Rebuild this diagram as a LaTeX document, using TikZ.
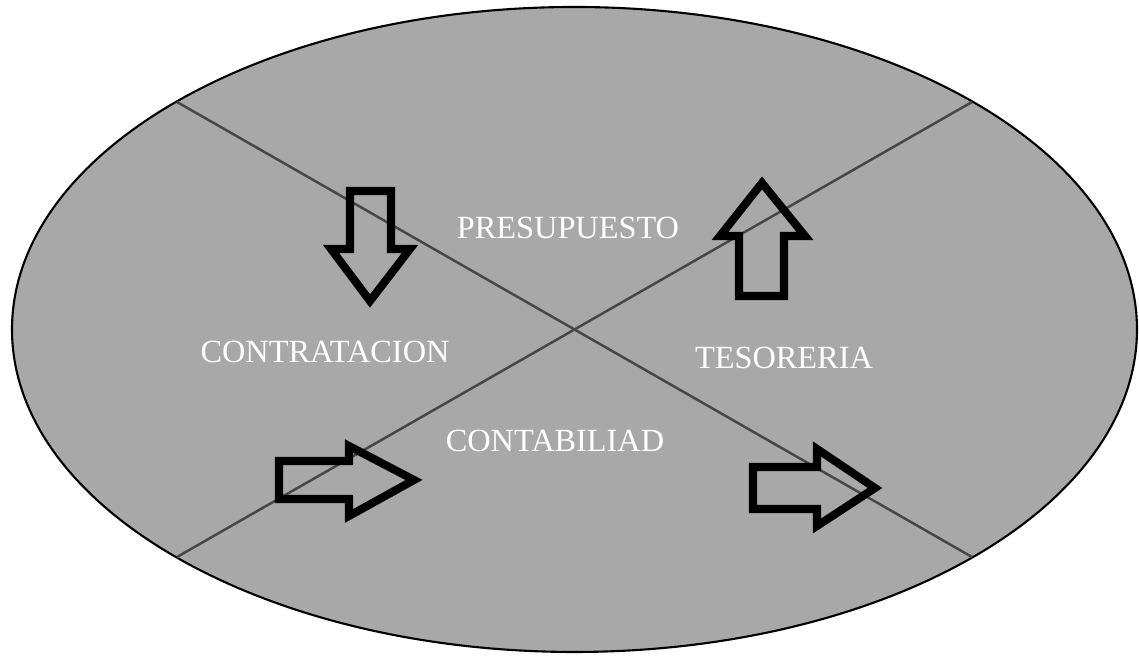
\documentclass[tikz,border=0pt]{standalone}
\usepackage{fontspec}
\setmainfont{Liberation Serif}
\usepackage{tikz}
\usetikzlibrary{shapes.geometric}
\definecolor{plangray}{RGB}{168, 168, 168}
\definecolor{linegray}{RGB}{70, 70, 70}
\tikzset{
  areatext/.style={text=white, font=\fontsize{9.2}{11}\selectfont, inner sep=1pt},
  hollowarrow/.style={draw=black, line width=2.3pt, line join=miter, fill=none}
}

\begin{document}
\begin{tikzpicture}
\useasboundingbox (0,0) rectangle (11.39,6.56);
% Ellipse
\node[ellipse, draw=black, fill=plangray, line width=0.6pt, inner sep=0,
      minimum width=11.25cm, minimum height=6.45cm] (plan) at (5.745,3.265) {};
% Diagonals
\coordinate (nw) at (1.77,5.54);
\coordinate (se) at (9.72,0.99);
\coordinate (ne) at (9.72,5.54);
\coordinate (sw) at (1.77,0.99);
\draw[linegray, line width=0.7pt] (nw) -- (se);
\draw[linegray, line width=0.7pt] (sw) -- (ne);
% Area labels
\node[areatext] (presupuesto) at (5.68,4.28) {PRESUPUESTO};
\node[areatext] (contratacion) at (3.25,3.04) {CONTRATACION};
\node[areatext] (tesoreria) at (7.84,2.98) {TESORERIA};
\node[areatext] (contabiliad) at (5.55,2.15) {CONTABILIAD};
% Down arrow
\draw[hollowarrow] (3.50,4.65) -- (3.91,4.65) -- (3.91,4.07) -- (4.10,4.07)
  -- (3.70,3.55) -- (3.31,4.07) -- (3.50,4.07) -- cycle;
% Up arrow
\draw[hollowarrow] (7.39,3.60) -- (7.84,3.60) -- (7.84,4.20) -- (8.05,4.20)
  -- (7.62,4.73) -- (7.20,4.20) -- (7.39,4.20) -- cycle;
% Right arrows
\draw[hollowarrow] (2.79,1.95) -- (3.49,1.95) -- (3.49,2.10) -- (4.14,1.76)
  -- (3.49,1.40) -- (3.49,1.57) -- (2.79,1.57) -- cycle;
\draw[hollowarrow] (7.53,1.89) -- (8.17,1.89) -- (8.17,2.07) -- (8.75,1.68)
  -- (8.17,1.30) -- (8.17,1.47) -- (7.53,1.47) -- cycle;
\end{tikzpicture}
\end{document}
